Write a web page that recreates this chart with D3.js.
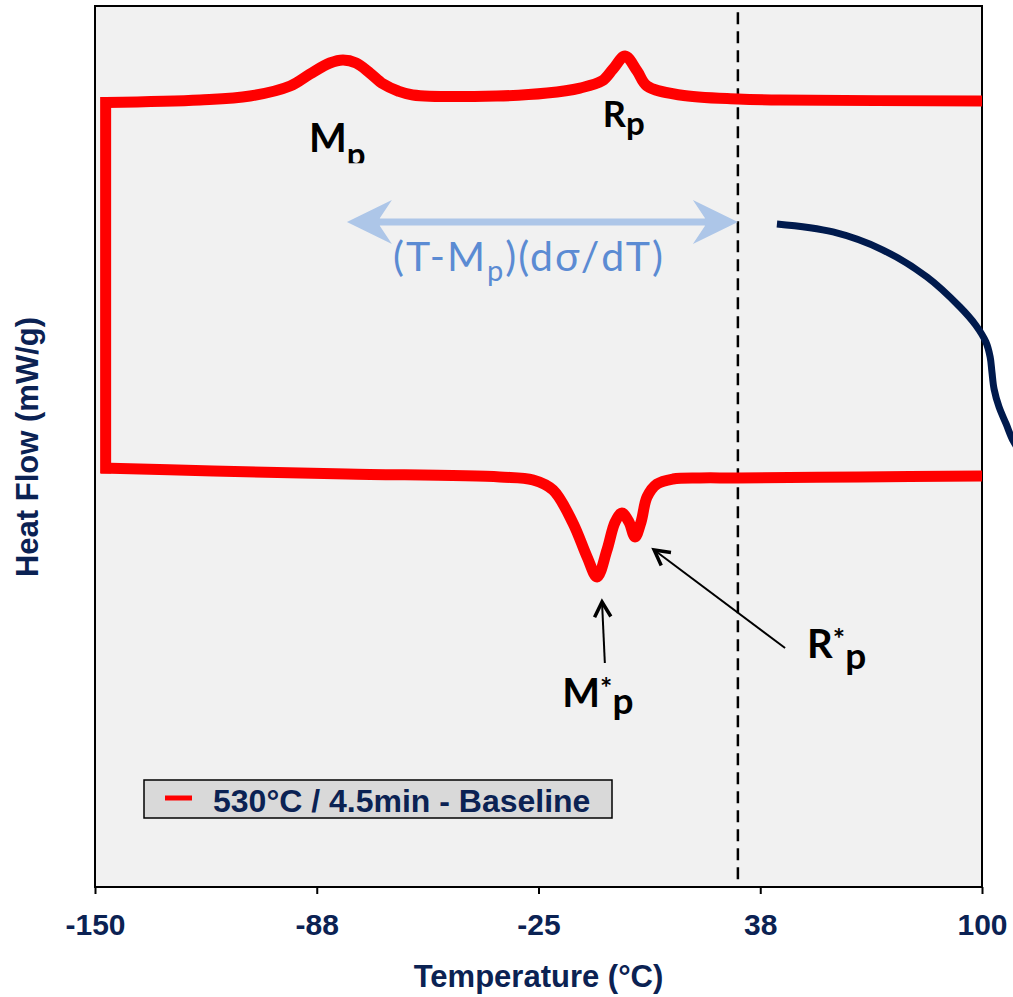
<!DOCTYPE html>
<html>
<head>
<meta charset="utf-8">
<script src="https://cdn.jsdelivr.net/npm/d3@7"></script>
<style>
  body { margin: 0; background: #fff; }
</style>
</head>
<body>
<svg id="chart" width="1013" height="997"></svg>
<script>
// upper trace (cooling), temperature in °C and heat flow (arbitrary units)
var coolTemp = [-146.9, -120.4, -106.3, -95.0, -89.4, -83.8, -80.1, -76.4, -72.5, -68.8, -64.6, -60.4, -36.7, -22.6, -13.3, -7.1, -4.0, -0.6, 2.8, 5.6, 14.9, 31.2, 43.1, 100];
var coolFlow = [8.905, 8.933, 8.978, 9.092, 9.228, 9.353, 9.387, 9.353, 9.239, 9.115, 9.035, 8.990, 8.978, 9.012, 9.069, 9.149, 9.285, 9.432, 9.262, 9.092, 8.990, 8.944, 8.933, 8.922];

// lower trace (heating)
var heatTemp = [-148.3, -116.7, -79.0, -35.9, -26.5, -20.9, -15.3, -11.3, -8.5, -5.7, -3.4, -1.5, 0.5, 2.2, 3.9, 5.6, 8.4, 12.9, 20.5, 31.2, 65.6, 100];
var heatFlow = [4.756, 4.722, 4.688, 4.654, 4.620, 4.506, 4.132, 3.746, 3.519, 3.825, 4.143, 4.245, 4.143, 3.973, 4.143, 4.427, 4.574, 4.631, 4.643, 4.643, 4.654, 4.665];

// navy curve on the right edge
var sigmaTemp = [42.2, 58.0, 72.1, 84.5, 93.8, 98.2, 101.1, 102.3, 102.8, 103.4, 104.8, 106.8, 108.8, 112.1];
var sigmaFlow = [7.526, 7.435, 7.230, 6.924, 6.583, 6.379, 6.186, 6.016, 5.846, 5.653, 5.449, 5.256, 5.063, 4.858];

var tickTemps = [-150, -87.5, -25, 37.5, 100];
var markerTemp = 31.2;          // dashed vertical line
var spanTemps = [-79.0, 31.2];  // light blue double arrow
var spanFlow = 7.548;
var legendLabel = "530°C / 4.5min - Baseline";

var navy = "#0b2253";
var width = 1013, height = 997;
var margin = { left: 95, top: 6, right: 31, bottom: 110 };

var svg = d3.select("#chart");

var x = d3.scaleLinear().domain([-150, 100]).range([margin.left, width - margin.right]);
var y = d3.scaleLinear().domain([0, 10]).range([height - margin.bottom, margin.top]);

// plot background
svg.append("rect")
    .attr("x", x(-150))
    .attr("y", y(10))
    .attr("width", x(100) - x(-150))
    .attr("height", y(0) - y(10))
    .attr("fill", "#f1f1f1");

// x axis
var xAxis = d3.axisBottom(x)
    .tickValues(tickTemps)
    .tickSize(7)
    .tickSizeOuter(0)
    .tickPadding(20)
    .tickFormat(function (d) { return (d < 0 ? "-" : "") + Math.abs(d).toFixed(0); });

var gx = svg.append("g")
    .attr("transform", "translate(0," + y(0) + ")")
    .call(xAxis);
gx.select(".domain").remove();
gx.selectAll("line").attr("stroke", "#000").attr("stroke-width", 2);
gx.selectAll("text")
    .attr("fill", navy)
    .style("font-family", "'Liberation Sans', Arial, sans-serif")
    .style("font-weight", "bold")
    .style("font-size", "30px");

// frame
svg.append("rect")
    .attr("x", x(-150))
    .attr("y", y(10))
    .attr("width", x(100) - x(-150))
    .attr("height", y(0) - y(10))
    .attr("fill", "none")
    .attr("stroke", "#000")
    .attr("stroke-width", 2);

// axis titles
svg.append("text")
    .attr("x", (x(-150) + x(100)) / 2)
    .attr("y", 987)
    .attr("text-anchor", "middle")
    .attr("fill", navy)
    .style("font-family", "'Liberation Sans', Arial, sans-serif")
    .style("font-weight", "bold")
    .style("font-size", "31px")
    .text("Temperature (°C)");

svg.append("text")
    .attr("transform", "translate(38," + 447 + ") rotate(-90)")
    .attr("text-anchor", "middle")
    .attr("fill", navy)
    .style("font-family", "'Liberation Sans', Arial, sans-serif")
    .style("font-weight", "bold")
    .style("font-size", "31px")
    .text("Heat Flow (mW/g)");

// dashed marker line
svg.append("line")
    .attr("x1", x(markerTemp))
    .attr("x2", x(markerTemp))
    .attr("y1", y(9.93))
    .attr("y2", y(0.05))
    .attr("stroke", "#000")
    .attr("stroke-width", 2.5)
    .attr("stroke-dasharray", "12,7");

// red DSC loop
var cool = coolTemp.map(function (t, i) { return [t, coolFlow[i]]; });
var heat = heatTemp.map(function (t, i) { return [t, heatFlow[i]]; });

var line = d3.line()
    .x(function (d) { return x(d[0]); })
    .y(function (d) { return y(d[1]); })
    .curve(d3.curveCatmullRom.alpha(0.5));

svg.append("line")
    .attr("x1", x(-147.0))
    .attr("x2", x(-147.0))
    .attr("y1", y(cool[0][1]))
    .attr("y2", y(heat[0][1]))
    .attr("stroke", "#ff0000")
    .attr("stroke-width", 11)
    .attr("stroke-linecap", "square");

svg.append("path")
    .datum(cool)
    .attr("d", line)
    .attr("fill", "none")
    .attr("stroke", "#ff0000")
    .attr("stroke-width", 11);

svg.append("path")
    .datum(heat)
    .attr("d", line)
    .attr("fill", "none")
    .attr("stroke", "#ff0000")
    .attr("stroke-width", 11);

// navy curve
var sigma = sigmaTemp.map(function (t, i) { return [t, sigmaFlow[i]]; });
svg.append("path")
    .datum(sigma)
    .attr("d", d3.line()
        .x(function (d) { return x(d[0]); })
        .y(function (d) { return y(d[1]); })
        .curve(d3.curveCatmullRom.alpha(0.5)))
    .attr("fill", "none")
    .attr("stroke", "#001a4d")
    .attr("stroke-width", 7);

// light blue double arrow
var ax1 = x(spanTemps[0]), ax2 = x(spanTemps[1]), ay = y(spanFlow);
var headLen = 45, headHalf = 22, notch = 12;
svg.append("line")
    .attr("x1", ax1 + notch)
    .attr("x2", ax2 - notch)
    .attr("y1", ay)
    .attr("y2", ay)
    .attr("stroke", "#adc6e8")
    .attr("stroke-width", 7);
[[ax1, 1], [ax2, -1]].forEach(function (h) {
    var tip = h[0], dir = h[1];
    svg.append("path")
        .attr("d", "M" + tip + "," + ay +
            "L" + (tip + dir * headLen) + "," + (ay - headHalf) +
            "L" + (tip + dir * (headLen - 12)) + "," + (ay - 4) +
            "L" + (tip + dir * (headLen - 12)) + "," + (ay + 4) +
            "L" + (tip + dir * headLen) + "," + (ay + headHalf) + "Z")
        .attr("fill", "#adc6e8");
});

svg.append("text")
    .attr("x", x(-66.0))
    .attr("y", y(6.992))
    .attr("fill", "#5b8bd3")
    .style("font-family", "Lato, 'Open Sans', sans-serif")
    .style("font-size", "41px")
    .style("letter-spacing", "2px")
    .call(function (t) {
        t.append("tspan").text("(T-M");
        t.append("tspan").attr("dy", 10).style("font-size", "29px").text("p");
        t.append("tspan").attr("dy", -10).text(")(dσ/dT)");
    });

// peak labels
var defs = svg.append("defs");
defs.append("clipPath").attr("id", "mpClip")
    .append("rect")
    .attr("x", x(-95)).attr("y", y(9.5))
    .attr("width", 80).attr("height", y(8.215) - y(9.5));

function peakLabel(temp, flow, size) {
    return svg.append("text")
        .attr("x", x(temp))
        .attr("y", y(flow))
        .attr("fill", "#000")
        .style("font-family", "Lato, 'Open Sans', sans-serif")
        .style("font-weight", "bold")
        .style("font-size", size + "px");
}

var mp = peakLabel(-89.7, 8.343, 40).attr("clip-path", "url(#mpClip)");
mp.append("tspan").text("M");
mp.append("tspan").attr("dy", 14).style("font-size", "33px").text("p");

var rp = peakLabel(-6.9, 8.627, 36);
rp.append("tspan").text("R");
rp.append("tspan").attr("dy", 8).style("font-size", "33px").text("p");

var mps = peakLabel(-18.3, 2.043, 40);
mps.append("tspan").text("M");
mps.append("tspan").attr("dy", -9).style("font-size", "29px").text("*");
mps.append("tspan").attr("dy", 16).style("font-size", "37px").text("p");

var rps = peakLabel(50.7, 2.599, 40);
rps.append("tspan").text("R");
rps.append("tspan").attr("dy", -9).style("font-size", "29px").text("*");
rps.append("tspan").attr("dy", 20).style("font-size", "37px").text("p");

// black pointer arrows
function pointer(t1, f1, t2, f2) {
    var x1 = x(t1), y1 = y(f1), x2 = x(t2), y2 = y(f2);
    var a = Math.atan2(y2 - y1, x2 - x1), len = 17, s = 0.5;
    svg.append("line")
        .attr("x1", x1).attr("y1", y1).attr("x2", x2).attr("y2", y2)
        .attr("stroke", "#000").attr("stroke-width", 2);
    svg.append("path")
        .attr("d", "M" + (x2 - len * Math.cos(a - s)) + "," + (y2 - len * Math.sin(a - s)) +
            "L" + x2 + "," + y2 +
            "L" + (x2 - len * Math.cos(a + s)) + "," + (y2 - len * Math.sin(a + s)))
        .attr("fill", "none")
        .attr("stroke", "#000")
        .attr("stroke-width", 3.5)
        .attr("stroke-linejoin", "miter");
}
pointer(-6.3, 2.543, -7.1, 3.235);
pointer(44.5, 2.713, 7.6, 3.825);

// legend
var legend = svg.append("g").attr("transform", "translate(144,780)");
legend.append("rect")
    .attr("width", 468)
    .attr("height", 38)
    .attr("fill", "#d9d9d9")
    .attr("stroke", "#000")
    .attr("stroke-width", 1.5);
legend.append("line")
    .attr("x1", 21).attr("x2", 48)
    .attr("y1", 18).attr("y2", 18)
    .attr("stroke", "#ff0000")
    .attr("stroke-width", 5);
legend.append("text")
    .attr("x", 69)
    .attr("y", 32)
    .attr("fill", navy)
    .style("font-family", "'Liberation Sans', Arial, sans-serif")
    .style("font-weight", "bold")
    .style("font-size", "32px")
    .text(legendLabel);
</script>
</body>
</html>
